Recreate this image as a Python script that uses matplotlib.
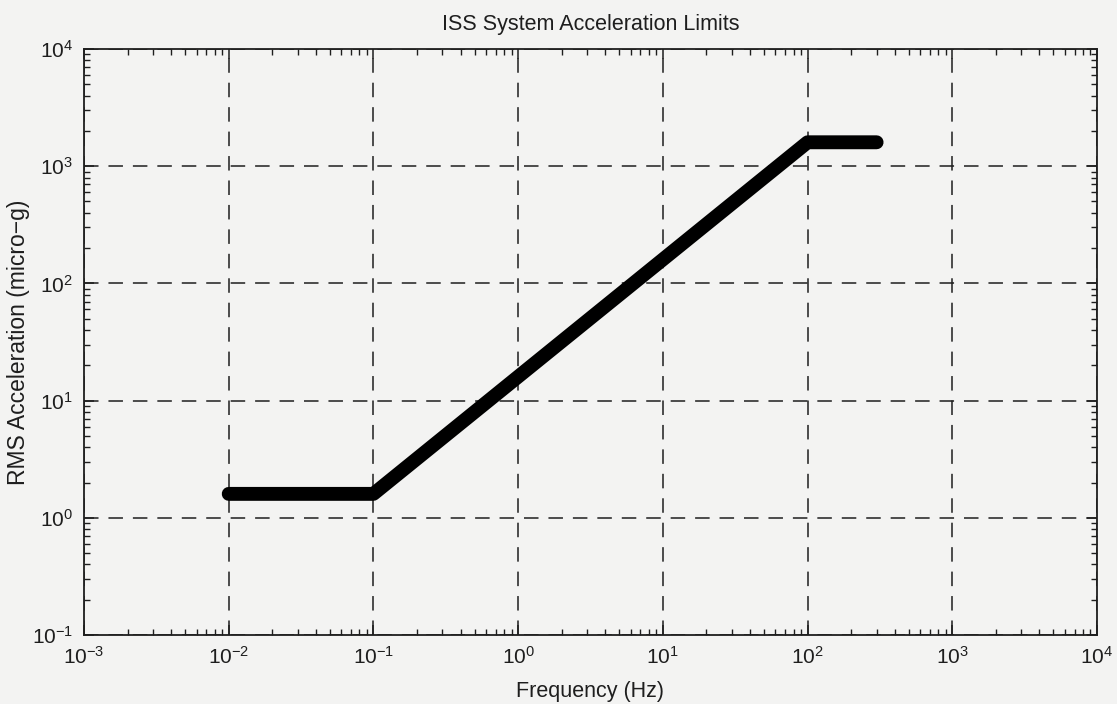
import matplotlib
matplotlib.use("Agg")
import matplotlib.pyplot as plt
from matplotlib.ticker import LogLocator, NullFormatter, FixedLocator

freq_hz = [0.01, 0.1, 100, 300]
accel_ug = [1.6, 1.6, 1600, 1600]
x_decades = [-3, -2, -1, 0, 1, 2, 3, 4]
y_decades = [-1, 0, 1, 2, 3, 4]

plt.rcParams['font.family'] = ['Liberation Sans', 'DejaVu Sans']
plt.rcParams['mathtext.fontset'] = 'custom'
plt.rcParams['mathtext.rm'] = 'Liberation Sans'
plt.rcParams['mathtext.it'] = 'Liberation Sans:italic'
plt.rcParams['mathtext.bf'] = 'Liberation Sans:bold'

bg = '#f3f3f2'
ink = '#1e1e1e'
fig = plt.figure(figsize=(11.17, 7.04), dpi=100, facecolor=bg)
ax = fig.add_axes([84/1117, 1-635/704, (1097-84)/1117, (635-49)/704])
ax.set_facecolor(bg)

ax.loglog(freq_hz, accel_ug, color='black', linewidth=10, solid_capstyle='round', solid_joinstyle='round')

ax.set_xlim(10.0 ** x_decades[0], 10.0 ** x_decades[-1])
ax.set_ylim(10.0 ** y_decades[0], 10.0 ** y_decades[-1])
ax.xaxis.set_major_locator(FixedLocator([10.0 ** d for d in x_decades]))
ax.yaxis.set_major_locator(FixedLocator([10.0 ** d for d in y_decades]))
ax.set_xticklabels([r'$10^{%d}$' % d for d in x_decades])
ax.set_yticklabels([r'$10^{%d}$' % d for d in y_decades])
ax.xaxis.set_minor_locator(LogLocator(base=10, subs=range(2, 10), numticks=20))
ax.yaxis.set_minor_locator(LogLocator(base=10, subs=range(2, 10), numticks=20))
ax.xaxis.set_minor_formatter(NullFormatter())
ax.yaxis.set_minor_formatter(NullFormatter())

ax.grid(True, which='major', color=ink, linestyle=(0, (9.5, 6.5)), linewidth=1.1)
ax.tick_params(which='both', direction='in', top=True, right=True, labelsize=15, color=ink, labelcolor=ink)
ax.tick_params(which='major', length=7, width=1.1)
ax.tick_params(axis='x', which='major', pad=8)
ax.tick_params(axis='y', which='major', pad=8)
ax.tick_params(which='minor', length=4, width=1.0)
for s in ax.spines.values():
    s.set_linewidth(1.3)
    s.set_color(ink)

ax.set_title('ISS System Acceleration Limits', fontsize=15.5, pad=14, color=ink)
ax.set_xlabel('Frequency (Hz)', fontsize=15.5, labelpad=9, color=ink)
ax.set_ylabel('RMS Acceleration (micro\u2212g)', fontsize=16.5, labelpad=1, color=ink)

fig.savefig('out.png', dpi=100, facecolor=bg)
